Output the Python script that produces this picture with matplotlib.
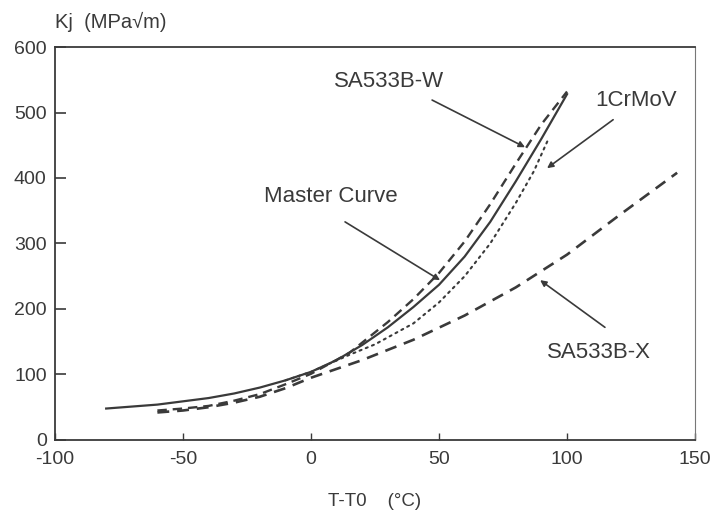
import matplotlib
matplotlib.use('Agg')
import matplotlib.pyplot as plt

plt.rcParams['font.family'] = ['Liberation Sans', 'DejaVu Sans']
plt.rcParams['axes.unicode_minus'] = False

# Master curve (solid)
master_t = [-80, -60, -40, -30, -20, -10, 0, 10, 20, 30, 40, 50, 60, 70, 80, 90, 100]
master_k = [48, 54, 64, 71, 80, 91, 104, 122, 145, 172, 203, 237, 280, 333, 395, 460, 528]

# SA533B-W (dashed, upper)
w_t = [-60, -50, -40, -30, -20, -10, 0, 15, 30, 40, 50, 60, 70, 80, 90, 100]
w_k = [45, 48, 52, 60, 70, 85, 101, 133, 180, 215, 255, 303, 360, 422, 482, 532]

# SA533B-X (dashed, lower)
x_t = [-60, -50, -40, -30, -20, -10, 0, 20, 40, 60, 80, 100, 120, 143]
x_k = [42, 45, 50, 57, 66, 79, 95, 122, 153, 190, 233, 283, 342, 408]

# 1CrMoV (dotted)
cr_t = [-10, 0, 15, 25, 40, 50, 60, 70, 80, 87, 93]
cr_k = [91, 104, 130, 146, 178, 210, 250, 300, 362, 410, 462]

xticks = [-100, -50, 0, 50, 100, 150]
yticks = [0, 100, 200, 300, 400, 500, 600]

ink = '#3a3a3a'

fig = plt.figure(figsize=(7.12, 5.11), dpi=100)
ax = fig.add_axes([0.0772, 0.139, 0.899, 0.769])

ax.plot(master_t, master_k, color=ink, lw=1.6)
ax.plot(w_t, w_k, color=ink, lw=1.7, dashes=(4, 2.5))
ax.plot(x_t, x_k, color=ink, lw=1.9, dashes=(4.5, 3))
ax.plot(cr_t, cr_k, color=ink, lw=1.5, dashes=(1, 2.2), dash_capstyle='round')

ax.set_xlim(-100, 150)
ax.set_ylim(0, 600)
ax.set_xticks(xticks)
ax.set_yticks(yticks)
ax.tick_params(axis='y', direction='in', length=8, width=1.2, colors=ink,
               labelsize=14, pad=6, right=False)
ax.tick_params(axis='x', direction='in', length=5, width=1.0, colors=ink,
               labelsize=14, pad=8, top=False)

for side in ['left', 'bottom', 'top']:
    ax.spines[side].set_color(ink)
    ax.spines[side].set_linewidth(1.3)
ax.spines['right'].set_color('#777777')
ax.spines['right'].set_linewidth(0.8)

ax.set_xlabel('T-T0    (°C)', fontsize=13.5, color=ink, labelpad=18)
fig.text(0.0772, 0.957, 'Kj  (MPa√m)', fontsize=14.5, color=ink,
         ha='left', va='center')

arrow = dict(arrowstyle='-|>', color=ink, lw=1.2, mutation_scale=9,
             shrinkA=0, shrinkB=0)
ax.annotate('', xy=(83.6, 447), xytext=(47.3, 519), arrowprops=arrow)
ax.annotate('', xy=(92.2, 415), xytext=(118, 489), arrowprops=arrow)
ax.annotate('', xy=(50.4, 244), xytext=(13.3, 333), arrowprops=arrow)
ax.annotate('', xy=(89.5, 244), xytext=(114.8, 172), arrowprops=arrow)

ax.text(30.5, 547, 'SA533B-W', fontsize=16, color=ink, ha='center', va='center')
ax.text(127, 519, '1CrMoV', fontsize=16, color=ink, ha='center', va='center')
ax.text(7.8, 371, 'Master Curve', fontsize=16, color=ink, ha='center', va='center')
ax.text(112.5, 134, 'SA533B-X', fontsize=16, color=ink, ha='center', va='center')

fig.savefig('out.png', dpi=100)
